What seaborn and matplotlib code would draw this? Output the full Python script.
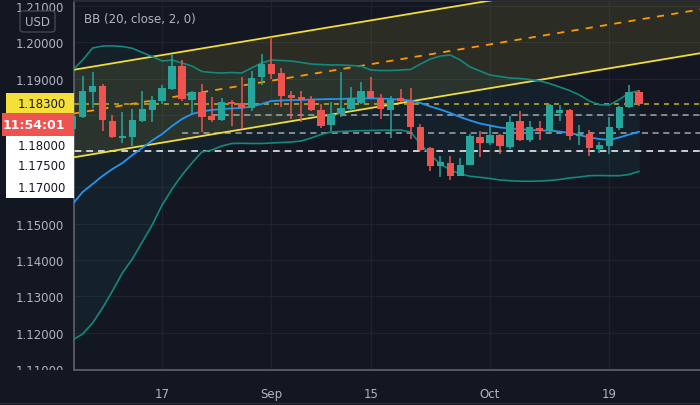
import numpy as np
import pandas as pd
import seaborn as sns
import matplotlib
matplotlib.use('Agg')
import matplotlib.pyplot as plt
from matplotlib.patches import Rectangle, FancyBboxPatch
from matplotlib.transforms import Bbox, TransformedBbox

# EUR/USD daily bars
dates = pd.bdate_range('2020-08-04', '2020-10-22')
opens = [1.1762, 1.1795, 1.1862, 1.1879, 1.1784, 1.1737, 1.1740, 1.1783, 1.1814, 1.1839,
         1.1871, 1.1934, 1.1841, 1.1864, 1.1796, 1.1787, 1.1835, 1.1832, 1.1818, 1.1905,
         1.1940, 1.1915, 1.1855, 1.1849, 1.1842, 1.1814, 1.1772, 1.1803, 1.1816, 1.1833,
         1.1865, 1.1847, 1.1814, 1.1846, 1.1839, 1.1768, 1.1708, 1.1658, 1.1668, 1.1633,
         1.1663, 1.1740, 1.1723, 1.1745, 1.1711, 1.1782, 1.1732, 1.1764, 1.1757, 1.1806,
         1.1814, 1.1741, 1.1747, 1.1706, 1.1715, 1.1763, 1.1821, 1.1864]
highs = [1.1805, 1.1908, 1.1917, 1.1885, 1.1800, 1.1809, 1.1816, 1.1867, 1.1853, 1.1882,
         1.1968, 1.1952, 1.1867, 1.1885, 1.1850, 1.1846, 1.1841, 1.1905, 1.1922, 1.1968,
         1.2014, 1.1928, 1.1867, 1.1867, 1.1851, 1.1830, 1.1835, 1.1917, 1.1876, 1.1890,
         1.1904, 1.1858, 1.1851, 1.1871, 1.1873, 1.1775, 1.1711, 1.1688, 1.1686, 1.1680,
         1.1747, 1.1757, 1.1770, 1.1747, 1.1798, 1.1810, 1.1784, 1.1782, 1.1830, 1.1827,
         1.1816, 1.1772, 1.1758, 1.1725, 1.1793, 1.1825, 1.1882, 1.1869]
lows = [1.1745, 1.1791, 1.1818, 1.1757, 1.1736, 1.1723, 1.1714, 1.1781, 1.1781, 1.1830,
        1.1869, 1.1838, 1.1803, 1.1752, 1.1780, 1.1782, 1.1770, 1.1761, 1.1812, 1.1883,
        1.1899, 1.1821, 1.1789, 1.1781, 1.1812, 1.1763, 1.1757, 1.1795, 1.1812, 1.1830,
        1.1846, 1.1789, 1.1736, 1.1835, 1.1734, 1.1701, 1.1646, 1.1628, 1.1622, 1.1631,
        1.1662, 1.1685, 1.1718, 1.1692, 1.1706, 1.1729, 1.1725, 1.1732, 1.1754, 1.1784,
        1.1731, 1.1717, 1.1688, 1.1695, 1.1692, 1.1759, 1.1818, 1.1824]
closes = [1.1797, 1.1867, 1.1880, 1.1786, 1.1738, 1.1742, 1.1785, 1.1815, 1.1841, 1.1874,
          1.1936, 1.1844, 1.1862, 1.1795, 1.1787, 1.1835, 1.1830, 1.1818, 1.1901, 1.1940,
          1.1913, 1.1853, 1.1847, 1.1842, 1.1814, 1.1770, 1.1803, 1.1819, 1.1846, 1.1865,
          1.1847, 1.1816, 1.1842, 1.1839, 1.1766, 1.1704, 1.1659, 1.1671, 1.1631, 1.1662,
          1.1741, 1.1723, 1.1745, 1.1715, 1.1780, 1.1732, 1.1766, 1.1755, 1.1827, 1.1814,
          1.1741, 1.1747, 1.1708, 1.1717, 1.1766, 1.1821, 1.1862, 1.1830]

# Bollinger bands (20, close, 2)
bb_upper = [1.19237, 1.19512, 1.19843, 1.19898, 1.19904, 1.19884, 1.19835, 1.19719, 1.19609, 1.19485,
            1.19512, 1.19430, 1.19347, 1.19196, 1.19168, 1.19154, 1.19168, 1.19154, 1.19292, 1.19430,
            1.19512, 1.19499, 1.19485, 1.19444, 1.19402, 1.19388, 1.19375, 1.19375, 1.19361, 1.19347,
            1.19237, 1.19223, 1.19223, 1.19237, 1.19251, 1.19402, 1.19540, 1.19623, 1.19650, 1.19512,
            1.19320, 1.19209, 1.19099, 1.19058, 1.19017, 1.19003, 1.18975, 1.18934, 1.18865, 1.18769,
            1.18672, 1.18548, 1.18383, 1.18281, 1.18273, 1.18424, 1.18603, 1.18667]
bb_basis = [1.15545, 1.15876, 1.16096, 1.16317, 1.16510, 1.16675, 1.16895, 1.17088, 1.17295, 1.17474,
            1.17694, 1.17887, 1.18025, 1.18094, 1.18135, 1.18163, 1.18176, 1.18190, 1.18231, 1.18300,
            1.18383, 1.18397, 1.18410, 1.18410, 1.18424, 1.18430, 1.18438, 1.18438, 1.18452, 1.18457,
            1.18457, 1.18452, 1.18438, 1.18419, 1.18397, 1.18328, 1.18231, 1.18149, 1.18052, 1.17942,
            1.17846, 1.17763, 1.17708, 1.17653, 1.17625, 1.17612, 1.17584, 1.17576, 1.17565, 1.17543,
            1.17501, 1.17446, 1.17377, 1.17336, 1.17309, 1.17377, 1.17460, 1.17537]
bb_lower = [1.11799, 1.11964, 1.12267, 1.12680, 1.13149, 1.13645, 1.14030, 1.14499, 1.14967, 1.15518,
            1.15959, 1.16344, 1.16675, 1.16978, 1.17033, 1.17143, 1.17212, 1.17218, 1.17212, 1.17212,
            1.17226, 1.17240, 1.17253, 1.17281, 1.17364, 1.17460, 1.17529, 1.17543, 1.17556, 1.17565,
            1.17570, 1.17576, 1.17579, 1.17584, 1.17529, 1.17198, 1.16895, 1.16647, 1.16482, 1.16372,
            1.16309, 1.16281, 1.16248, 1.16207, 1.16187, 1.16174, 1.16171, 1.16179, 1.16193, 1.16220,
            1.16262, 1.16289, 1.16325, 1.16330, 1.16325, 1.16325, 1.16358, 1.16446]

# parallel channel drawing: two anchors (bar index) and prices
channel_x = [0, 64]
channel_top = [1.19239, 1.22151]
channel_bottom = [1.16826, 1.19738]

# horizontal levels: (price, first bar index)
levels = [(1.1800, 14), (1.1750, 11), (1.1700, -1)]
last_price = 1.1830
y_ticks = [1.11, 1.12, 1.13, 1.14, 1.15, 1.16, 1.17, 1.18, 1.19, 1.20, 1.21]
hidden_ticks = [1.16, 1.17, 1.18]  # covered by the price labels
x_tick_dates = ['2020-08-17', '2020-09-01', '2020-09-15', '2020-10-01', '2020-10-19']
x_tick_labels = ['17', 'Sep', '15', 'Oct', '19']

bg = '#131722'
txt = '#b2b5be'
up, down = '#26a69a', '#ef5350'

sns.set_theme(style='dark', rc={'axes.facecolor': bg, 'figure.facecolor': bg,
                                'axes.edgecolor': '#5d606b', 'text.color': txt,
                                'xtick.color': txt, 'ytick.color': txt})
plt.rcParams['font.family'] = ['DejaVu Sans']

W, H = 700, 406
fig = plt.figure(figsize=(7, 4.06), dpi=100)
ax = fig.add_axes([74 / W, 35 / H, 1 - 74 / W, 369 / H])

x = np.arange(len(dates))

# channel
ax.fill_between(channel_x, channel_bottom, channel_top, color='#ffeb3b', alpha=0.1, lw=0, zorder=1)
ax.plot(channel_x, channel_top, color='#f2dc3a', lw=1.3, zorder=4)
ax.plot(channel_x, channel_bottom, color='#f2dc3a', lw=1.3, zorder=4)
mid = [(a + b) / 2 for a, b in zip(channel_top, channel_bottom)]
ax.plot(channel_x, mid, color='#ff9800', lw=1.3, ls=(0, (4, 4)), zorder=4)

# bollinger bands
ax.fill_between(x, bb_lower, bb_upper, color='#2a9d9d', alpha=0.07, lw=0, zorder=1)
sns.lineplot(x=x, y=bb_upper, ax=ax, color='#12897e', lw=1.2, zorder=4)
sns.lineplot(x=x, y=bb_lower, ax=ax, color='#12897e', lw=1.2, zorder=4)
sns.lineplot(x=x, y=bb_basis, ax=ax, color='#2196f3', lw=1.3, zorder=4)

# horizontal levels
ax.axhline(last_price, color='#b3a42e', lw=1.2, ls=(0, (3, 3)), zorder=3)
ax.hlines(levels[0][0], levels[0][1], 70, color='#a3a6ae', lw=1.1, ls=(0, (4, 3)), zorder=3)
ax.hlines(levels[1][0], levels[1][1], 70, color='#a3a6ae', lw=1.1, ls=(0, (4, 3)), zorder=3)
ax.hlines(levels[2][0], levels[2][1], 70, color='#e8eaef', lw=1.2, ls=(0, (4, 3)), zorder=3)

# candles
o = np.array(opens); c = np.array(closes)
colors = np.where(c >= o, up, down)
ax.vlines(x, lows, highs, colors=colors, lw=1.1, zorder=5)
body = np.maximum(np.abs(c - o), 0.00008)
ax.bar(x, body, bottom=np.minimum(o, c), width=0.74, color=colors, lw=0, zorder=6)

ax.set_xlim(0.13, 63.13)
ax.set_ylim(1.10972, 1.21138)
ax.set_yticks(y_ticks)
ax.set_yticklabels(['' if any(abs(v - h) < 1e-9 for h in hidden_ticks) else f'{v:.5f}' for v in y_ticks])
pos = [list(dates).index(pd.Timestamp(d)) for d in x_tick_dates]
ax.set_xticks(pos)
ax.set_xticklabels(x_tick_labels)
ax.tick_params(axis='both', labelsize=8.5, length=4, width=0.8, color='#5d606b', pad=3, colors=txt)
ax.tick_params(axis='x', pad=8)
ax.grid(True, color='#1f2330', lw=0.9, zorder=0)
ax.set_axisbelow(True)
ax.spines['right'].set_visible(False)
ax.spines['top'].set_color('#2a2e39')
ax.spines['left'].set_color('#5d606b')
ax.spines['bottom'].set_color('#5d606b')

# clip y labels to the plotting band like the original
fig.canvas.draw()
clip = TransformedBbox(Bbox([[0, 35 / H], [1, 1]]), fig.transFigure)
for lbl in ax.get_yticklabels():
    lbl.set_clip_box(clip)
    lbl.set_clip_on(True)


def px_rect(x0, y0, x1, y1, **kw):
    fig.add_artist(Rectangle((x0 / W, 1 - y1 / H), (x1 - x0) / W, (y1 - y0) / H,
                             transform=fig.transFigure, **kw))


def px_text(px, py, s, **kw):
    fig.text(px / W, 1 - py / H, s, **kw)


# axis labels for the levels
px_rect(6, 130, 74, 199, facecolor='white', edgecolor='none', zorder=10)
for lv, py in zip(levels, [147, 167, 189]):
    px_text(66, py, f'{lv[0]:.5f}', ha='right', va='center', fontsize=8.5, color='#131722', zorder=11)
px_rect(6, 94, 74, 114, facecolor='#f5e03b', edgecolor='none', zorder=10)
px_text(66, 104, f'{last_price:.5f}', ha='right', va='center', fontsize=8.5, color='#131722', zorder=11)
px_rect(2, 114, 74, 137, facecolor='#ef5350', edgecolor='none', zorder=12)
px_text(65, 125.5, '11:54:01', ha='right', va='center', fontsize=9, color='white',
        fontweight='bold', zorder=13)

# currency badge and indicator title
fig.add_artist(FancyBboxPatch((20 / W, 1 - 33 / H), 35 / W, 21 / H, boxstyle='round,pad=0,rounding_size=0.006',
                              transform=fig.transFigure, facecolor=bg, edgecolor='#434651', lw=1, zorder=10))
px_text(37.5, 22.5, 'USD', ha='center', va='center', fontsize=8.5, color=txt, zorder=11)
px_text(84, 20, 'BB (20, close, 2, 0)', ha='left', va='center', fontsize=8.5, color=txt, zorder=11)

fig.add_artist(plt.Line2D([0, 1], [2 / H, 2 / H], transform=fig.transFigure, color='#2a2e39', lw=1))

fig.savefig('out.png', dpi=100, facecolor=bg)
